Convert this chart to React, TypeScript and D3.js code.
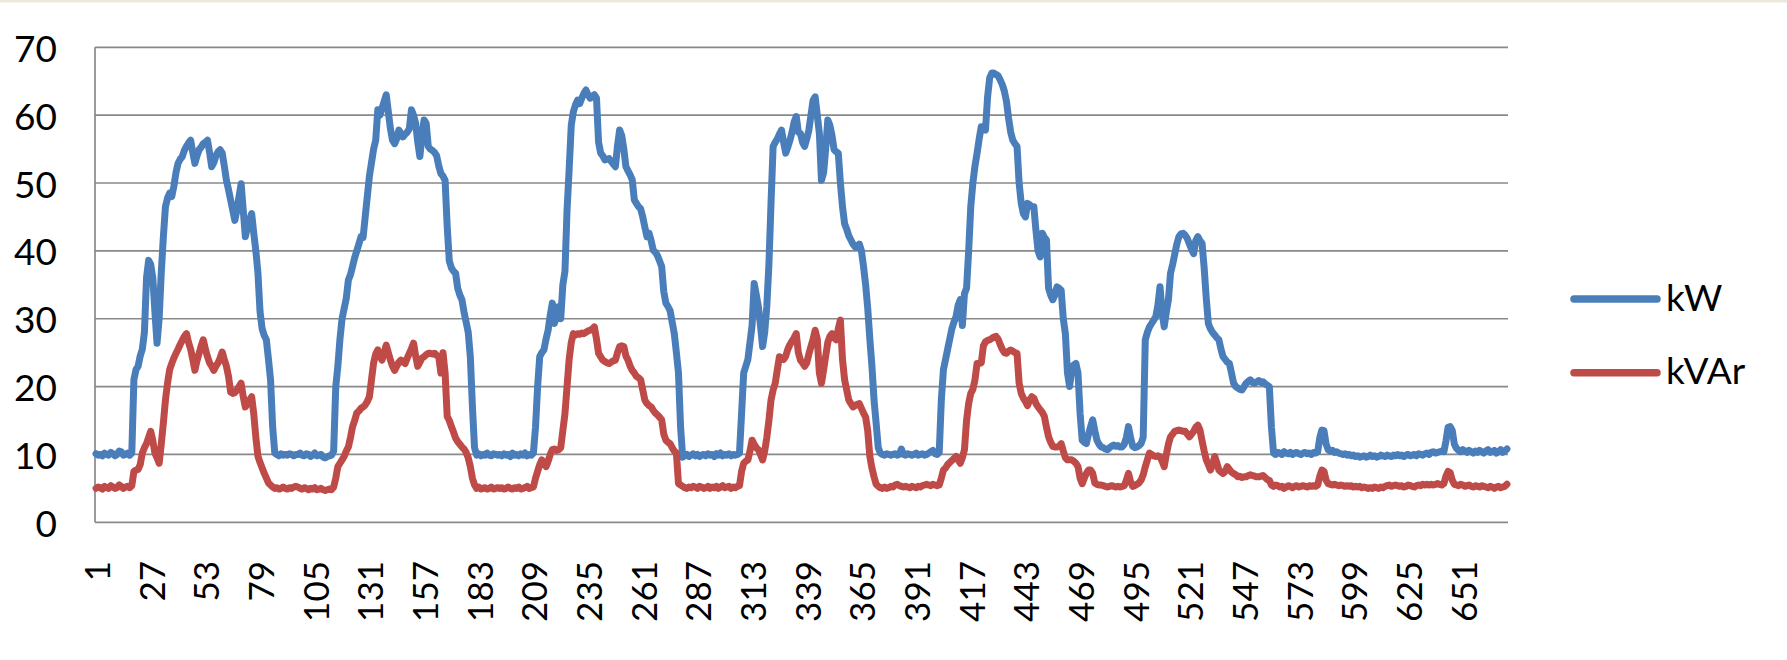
import React from "react";
import * as d3 from "d3";

// ---- Data: 672 readings (7 days x 96 quarter-hours) ----
const kWDay1 = [
  10.1, 9.9, 10.0, 9.8, 10.2, 10.0, 9.9, 10.3, 10.1, 9.8, 10.0, 10.5, 10.4, 9.9, 10.0, 10.2,
  9.9, 10.2, 21, 22.5, 23, 24.5, 25.5, 28, 36, 38.6, 38, 36, 31, 26.4, 30, 36.7,
  42, 46.5, 47.8, 48.5, 48, 49.5, 51.5, 52.9, 53.5, 53.9, 54.8, 55.4, 55.9, 56.3, 54.5, 52.9,
  54, 54.9, 55.3, 55.8, 56, 56.3, 54.5, 52.4, 53, 54, 54.6, 54.9, 54.4, 52.5, 50.4, 49,
  47.5, 46, 44.5, 46, 48, 49.9, 46, 42.1, 43.5, 44.5, 45.5, 42.6, 40, 36.7, 31, 28.5,
  27.5, 26.9, 24, 21, 14, 10.2, 10.0, 9.8, 10.1, 9.9, 10.0, 9.9, 10.1, 10.0, 9.8, 10.0,
];
const kWDay2 = [
  10.0, 10.2, 9.9, 9.8, 10.1, 10.0, 9.7, 9.9, 10.2, 9.8, 9.9, 10.0, 9.6, 9.5, 9.7, 9.8,
  9.9, 10.5, 20, 23, 27, 30, 31.5, 33, 35.7, 36.5, 37.7, 39, 40, 41, 42.1, 42,
  45, 48, 51, 53, 55, 56.3, 60.8, 60, 61, 62, 63, 60.5, 58, 56.3, 55.8, 56.5,
  57.8, 57.3, 56.8, 57.2, 57.5, 58, 60.8, 60, 58.8, 56, 53.9, 57, 59.3, 58.8, 55.4, 55,
  54.8, 54.5, 54, 52.5, 51.4, 51, 50.4, 43.6, 38.5, 37.5, 37, 36.7, 34.5, 33.5, 32.8, 31,
  29.5, 28, 24.4, 17, 11, 9.9, 10.1, 9.8, 10.0, 9.9, 10.2, 9.9, 9.8, 10.1, 10.0, 9.9,
];
const kWDay3 = [
  10.0, 9.8, 10.1, 9.9, 10.0, 9.7, 10.2, 9.9, 10.0, 9.8, 10.1, 9.9, 10.2, 9.8, 10.0, 9.9,
  10.2, 14, 20, 24.4, 25, 25.4, 27, 28.3, 30.5, 32.3, 29.3, 30.5, 31.8, 30, 35, 37,
  46, 52, 58.5, 60.5, 61.5, 62.2, 61.7, 62.5, 63.2, 63.7, 63, 62.5, 62.8, 63, 62.5, 56,
  54.4, 54, 53.4, 53.5, 53.6, 53.2, 52.8, 52.4, 55.5, 57.8, 57, 55, 52.4, 51.8, 51.2, 50.5,
  47.5, 47, 46.5, 46.2, 45, 43.5, 42.1, 42.6, 41.5, 40.1, 39.8, 39.3, 38.5, 37.7, 34, 32.3,
  31.8, 31.2, 29.5, 27.8, 25, 22, 14, 9.6, 9.8, 10.0, 9.7, 9.9, 10.1, 9.8, 10.0, 9.7,
];
const kWDay4 = [
  9.9, 10.0, 9.8, 10.1, 9.9, 10.0, 9.7, 10.1, 9.9, 10.2, 9.8, 10.0, 9.9, 10.1, 9.8, 10.0,
  9.9, 10.0, 10.2, 16, 22, 23, 24, 26.5, 29, 35.2, 33.5, 31.8, 29, 25.9, 28, 31.8,
  38, 47, 55.4, 56, 56.5, 57.2, 57.8, 56, 54.4, 55.3, 56.3, 57.5, 59, 59.8, 57.5, 57.3,
  56, 55.4, 56.5, 57.8, 60, 62.2, 62.7, 60, 57.3, 50.4, 51.5, 55, 59.3, 58.5, 57, 54.9,
  54.6, 54.4, 50, 46.5, 44, 43.2, 42.2, 41.6, 41, 40.6, 40.5, 41, 40, 37.7, 35, 31.5,
  27, 23, 18, 14.6, 11, 10.2, 10.0, 9.9, 10.1, 10.0, 9.9, 10.0, 10.1, 9.9, 10.0, 10.8,
];
const kWDay5 = [
  10.0, 9.9, 10.1, 10.0, 9.9, 10.0, 10.2, 9.9, 10.0, 10.1, 9.9, 10.0, 10.2, 10.4, 10.6, 10.1,
  10.0, 10.3, 18, 22.5, 24, 25.5, 27, 28.5, 29.5, 30.3, 32, 32.8, 29, 33.7, 34.5, 40,
  46.5, 50, 52.5, 54.4, 56.5, 58.3, 58, 57.8, 62.7, 65.5, 66.2, 66.2, 66, 65.8, 65.2, 64.5,
  63.5, 62, 59.5, 57.5, 56.3, 55.8, 55.4, 50, 47, 45.5, 45, 47, 46.8, 46.5, 46.5, 43,
  40, 39.1, 42.6, 42, 41.6, 34.5, 33.5, 32.8, 33.5, 34.7, 34.5, 34.2, 30, 27.8, 22, 20,
  22.4, 23.2, 23.4, 22, 16, 12.1, 11.8, 11.6, 13, 14.1, 15.1, 13.5, 12.1, 11.5, 11.1, 11.0,
];
const kWDay6 = [
  10.8, 10.7, 11.0, 11.2, 11.4, 11.2, 11.3, 11.1, 11.1, 11.5, 12.5, 14.1, 12.5, 11.2, 11.0, 11.1,
  11.3, 11.6, 12.5, 26.9, 28, 28.8, 29.3, 29.8, 30.3, 32, 34.7, 31, 28.8, 31, 32.8, 36.7,
  38, 39.5, 41, 42.1, 42.5, 42.6, 42.3, 41.8, 41, 40.2, 39.6, 41.5, 42.1, 41.5, 41.1, 37.5,
  33, 29.3, 28.5, 28, 27.6, 27.2, 26.9, 25.5, 24.4, 24, 23.6, 23.4, 22, 20.5, 20, 19.8,
  19.6, 19.5, 20, 20.5, 20.8, 21, 20.6, 20.5, 20.7, 20.9, 20.6, 20.7, 20.4, 20.2, 20, 14,
  10.2, 10.0, 10.3, 10.2, 10.0, 10.4, 10.2, 10.1, 10.3, 10.0, 10.2, 10.3, 10.1, 10.0, 10.2, 10.3,
];
const kWDay7 = [
  10.1, 10.2, 10.0, 10.3, 10.2, 10.4, 12.5, 13.6, 13.5, 11.5, 10.7, 10.5, 10.6, 10.3, 10.4, 10.2,
  10.1, 10.0, 10.1, 9.9, 10.0, 9.8, 9.9, 9.7, 9.8, 9.6, 9.7, 9.8, 9.6, 9.7, 9.9, 9.7,
  9.8, 9.6, 9.7, 9.9, 9.8, 9.7, 9.9, 9.8, 9.7, 9.9, 9.8, 10.0, 9.8, 9.9, 9.7, 9.9,
  10.0, 9.8, 9.9, 10.0, 9.8, 10.1, 10.0, 9.9, 10.1, 10.2, 10.0, 10.3, 10.4, 10.2, 10.3, 10.4,
  10.5, 10.4, 12, 14, 14.1, 13.5, 11.5, 10.9, 10.6, 10.4, 10.7, 10.5, 10.3, 10.6, 10.4, 10.2,
  10.5, 10.3, 10.6, 10.4, 10.2, 10.5, 10.7, 10.3, 10.4, 10.6, 10.2, 10.4, 10.7, 10.3, 10.5, 10.8,
];

const kVArDay1 = [
  5.0, 5.2, 5.1, 4.9, 5.3, 5.1, 5.0, 5.4, 5.2, 5.0, 5.1, 5.5, 5.3, 5.0, 5.2, 5.3,
  5.1, 5.4, 7.5, 7.7, 7.8, 8.5, 10.2, 11, 11.6, 12.5, 13.4, 12, 10.2, 9.5, 8.7, 11.5,
  14.6, 18, 20.5, 22.5, 23.4, 24.2, 24.9, 25.5, 26.2, 26.8, 27.4, 27.8, 26.5, 25.5, 24, 22.4,
  23.8, 24.9, 26, 26.9, 25.5, 24.4, 23.5, 23, 22.4, 23, 23.5, 24.2, 25.1, 24, 23, 21.5,
  19.2, 19, 19.1, 19.5, 20, 20.5, 18.5, 17, 17.5, 18, 18.5, 16, 12.5, 9.7, 8.8, 8,
  7.2, 6.5, 5.8, 5.5, 5.2, 5.0, 5.1, 4.9, 5.0, 5.2, 5.0, 4.9, 5.1, 5.0, 5.2, 5.3,
];
const kVArDay2 = [
  5.2, 5.0, 4.9, 5.1, 5.0, 4.8, 5.0, 4.9, 5.1, 4.8, 4.9, 5.0, 4.8, 4.7, 4.8, 4.9,
  4.8, 5.2, 6.5, 8.2, 8.7, 9.2, 9.7, 10.5, 11.1, 12.5, 14.1, 15, 16.1, 16.4, 16.8, 17,
  17.3, 17.8, 18.5, 21, 23.5, 24.8, 25.4, 24.5, 23.9, 25, 26.1, 25, 23.9, 23, 22.4, 23,
  23.6, 23.9, 23.6, 23.4, 24.2, 24.9, 25.6, 26.4, 24.5, 23, 23.6, 24.2, 24.4, 24.7, 24.9, 24.9,
  24.8, 24.9, 24.6, 24.4, 22, 25, 22, 15.6, 15, 14.1, 13.3, 12.4, 11.9, 11.5, 11.1, 10.8,
  10.3, 9.5, 8.2, 6.5, 5.5, 5.0, 5.2, 4.9, 5.0, 5.1, 4.9, 5.0, 5.2, 4.9, 5.0, 5.1,
];
const kVArDay3 = [
  5.0, 5.1, 4.9, 5.0, 5.2, 5.0, 4.9, 5.1, 5.0, 5.2, 4.9, 5.0, 5.1, 5.3, 5.0, 5.1,
  5.2, 6.5, 7.5, 8.5, 9.2, 8.8, 8.2, 9, 10, 10.7, 10.8, 10.6, 10.7, 11, 13.5, 16,
  20, 24, 26.5, 27.8, 27.6, 27.8, 27.7, 27.9, 27.8, 28, 28.2, 28.3, 28.5, 28.8, 27, 24.9,
  24.4, 23.9, 23.7, 23.5, 23.4, 23.6, 23.8, 23.9, 25, 25.9, 26, 25.9, 24.5, 23.9, 23, 22.4,
  22, 21.5, 21.3, 21, 19.5, 18, 17.5, 17.2, 17, 16.5, 16.1, 15.8, 15.5, 15.1, 13, 12.1,
  11.8, 11.6, 11, 10.5, 10.2, 5.7, 5.5, 5.3, 5.1, 5.0, 5.2, 5.1, 5.3, 5.2, 5.0, 5.3,
];
const kVArDay4 = [
  5.2, 5.0, 5.1, 5.3, 5.0, 5.2, 5.1, 5.3, 5.0, 5.2, 5.4, 5.1, 5.2, 5.3, 5.0, 5.2,
  5.1, 5.3, 5.4, 7.5, 8.7, 9, 9.2, 10.5, 12.1, 11.5, 11, 10.7, 10, 9.2, 10.5, 12.5,
  15, 18, 19.5, 20.5, 22.5, 24.4, 24.2, 24, 24.5, 25.5, 26.2, 26.7, 27.2, 27.8, 25, 23.9,
  23.5, 23, 23.5, 24.8, 25.9, 27, 28.3, 27, 22, 20.5, 22.4, 24.5, 26.5, 27.4, 27.8, 27.2,
  26.9, 28.5, 29.8, 24, 21, 19.5, 18, 17.5, 17, 17.2, 17.4, 17.5, 16.8, 16.1, 15.5, 13.5,
  9.7, 8, 6.7, 5.6, 5.3, 5.1, 5.0, 5.2, 5.0, 5.1, 5.3, 5.2, 5.5, 5.6, 5.4, 5.3,
];
const kVArDay5 = [
  5.2, 5.3, 5.2, 5.1, 5.3, 5.2, 5.1, 5.3, 5.2, 5.4, 5.5, 5.6, 5.5, 5.4, 5.6, 5.5,
  5.4, 5.5, 6.5, 7.7, 8, 8.5, 8.8, 9.1, 9.4, 9.7, 9.2, 8.7, 9.5, 10.7, 15, 17.5,
  19, 19.6, 21, 23.4, 23.4, 23.5, 26, 26.6, 26.8, 26.9, 27.1, 27.3, 27.4, 27, 26.2, 25.5,
  25, 24.9, 25.2, 25.4, 25.2, 25, 24.9, 20.5, 19, 18.3, 17.8, 17.2, 18, 18.5, 18.3, 17.5,
  17, 16.6, 16.2, 15.6, 14, 12.6, 11.8, 11.2, 11.1, 11.1, 11.2, 11.6, 10.5, 9.5, 9.2, 9.2,
  9.2, 9, 8.7, 8.2, 6.5, 5.7, 6.5, 7.2, 7.7, 7.7, 7.2, 5.8, 5.6, 5.5, 5.5, 5.4,
];
const kVArDay6 = [
  5.3, 5.2, 5.3, 5.4, 5.3, 5.2, 5.3, 5.2, 5.3, 5.4, 6.2, 7.2, 6, 5.3, 5.4, 5.6,
  5.8, 6.2, 7, 8.2, 9.2, 10.2, 10, 9.8, 9.7, 9.8, 9.7, 9, 8.2, 10, 11.5, 12.6,
  13, 13.4, 13.5, 13.6, 13.5, 13.4, 13.4, 13, 12.6, 13, 13.4, 14, 14.3, 13.6, 12, 10.5,
  9.2, 8.5, 7.7, 8.5, 9.7, 8.8, 7.7, 7.4, 7.2, 7.5, 8.2, 7.8, 7.4, 7.2, 7, 6.7,
  6.8, 6.6, 6.7, 6.7, 6.9, 7.0, 6.9, 6.8, 6.7, 6.7, 6.8, 6.9, 6.6, 6.3, 6.2, 5.5,
  5.3, 5.5, 5.4, 5.2, 5.3, 5.0, 5.2, 5.4, 5.3, 5.1, 5.3, 5.4, 5.2, 5.3, 5.4, 5.3,
];
const kVArDay7 = [
  5.2, 5.4, 5.3, 5.4, 5.3, 5.5, 6.8, 7.7, 7.5, 6.2, 5.7, 5.6, 5.5, 5.6, 5.5, 5.4,
  5.5, 5.4, 5.3, 5.4, 5.3, 5.4, 5.2, 5.3, 5.2, 5.3, 5.1, 5.2, 5.1, 5.0, 5.1, 5.0,
  5.2, 5.1, 5.0, 5.2, 5.1, 5.3, 5.4, 5.5, 5.3, 5.4, 5.5, 5.4, 5.3, 5.4, 5.2, 5.3,
  5.5, 5.4, 5.3, 5.2, 5.4, 5.5, 5.4, 5.6, 5.5, 5.6, 5.5, 5.6, 5.5, 5.6, 5.7, 5.6,
  5.5, 5.7, 6.8, 7.5, 7.3, 6.2, 5.6, 5.5, 5.4, 5.6, 5.5, 5.3, 5.4, 5.5, 5.3, 5.2,
  5.4, 5.3, 5.2, 5.4, 5.3, 5.2, 5.1, 5.3, 5.2, 5.0, 5.2, 5.3, 5.1, 5.2, 5.3, 5.6,
];

const kW = [...kWDay1, ...kWDay2, ...kWDay3, ...kWDay4, ...kWDay5, ...kWDay6, ...kWDay7];
const kVAr = [...kVArDay1, ...kVArDay2, ...kVArDay3, ...kVArDay4, ...kVArDay5, ...kVArDay6, ...kVArDay7];

const yTicks = [0, 10, 20, 30, 40, 50, 60, 70];
const xTickLabels = [1, 27, 53, 79, 105, 131, 157, 183, 209, 235, 261, 287, 313, 339, 365, 391, 417, 443, 469, 495, 521, 547, 573, 599, 625, 651];

const seriesNames = ["kW", "kVAr"];
const seriesColors = ["#4A7EBB", "#BE4B48"];

export default function App() {
  const W = 1787;
  const H = 660;
  const left = 95;
  const right = 1508;
  const top = 47.3;
  const bottom = 522.3;
  const N = kW.length;

  const x = d3.scaleLinear().domain([0, N]).range([left, right]);
  const y = d3.scaleLinear().domain([0, 70]).range([bottom, top]);
  const line = d3
    .line<number>()
    .x((_, i) => x(i + 0.5))
    .y((d) => y(d));

  const font = "Lato, 'Open Sans', sans-serif";
  const data = [kW, kVAr];

  return (
    <svg
      width={W}
      height={H}
      viewBox={`0 0 ${W} ${H}`}
      style={{ position: "absolute", left: 0, top: 0, background: "#fff" }}
    >
      <rect x={0} y={0} width={W} height={H} fill="#fff" />
      <rect x={0} y={0} width={W} height={2.5} fill="#ece8da" />
      {/* gridlines */}
      {yTicks.map((t) => (
        <line key={t} x1={left} x2={right} y1={y(t)} y2={y(t)} stroke="#898989" strokeWidth={1.7} />
      ))}
      <line x1={left} x2={left} y1={top} y2={bottom} stroke="#898989" strokeWidth={1.7} />
      {/* y labels */}
      {yTicks.map((t) => (
        <text
          key={t}
          x={57}
          y={y(t)}
          textAnchor="end"
          dominantBaseline="central"
          fontFamily={font}
          fontSize={37}
          fill="#000"
        >
          {t}
        </text>
      ))}
      {/* x labels */}
      {xTickLabels.map((lab) => {
        const cx = x(lab - 1 + 0.5);
        return (
          <text
            key={lab}
            transform={`translate(${cx},561) rotate(-90)`}
            textAnchor="end"
            dominantBaseline="central"
            fontFamily={font}
            fontSize={35}
            fill="#000"
          >
            {lab}
          </text>
        );
      })}
      {/* series */}
      {data.map((s, k) => (
        <path
          key={k}
          d={line(s) || ""}
          fill="none"
          stroke={seriesColors[k]}
          strokeWidth={7}
          strokeLinejoin="round"
          strokeLinecap="round"
        />
      ))}
      {/* legend */}
      {seriesNames.map((name, k) => {
        const ly = k === 0 ? 299 : 372.7;
        return (
          <g key={name}>
            <line x1={1574} x2={1657} y1={ly} y2={ly} stroke={seriesColors[k]} strokeWidth={7.5} strokeLinecap="round" />
            <text x={1666} y={ly + 11.5} fontFamily={font} fontSize={37} fill="#000">
              {name}
            </text>
          </g>
        );
      })}
    </svg>
  );
}
